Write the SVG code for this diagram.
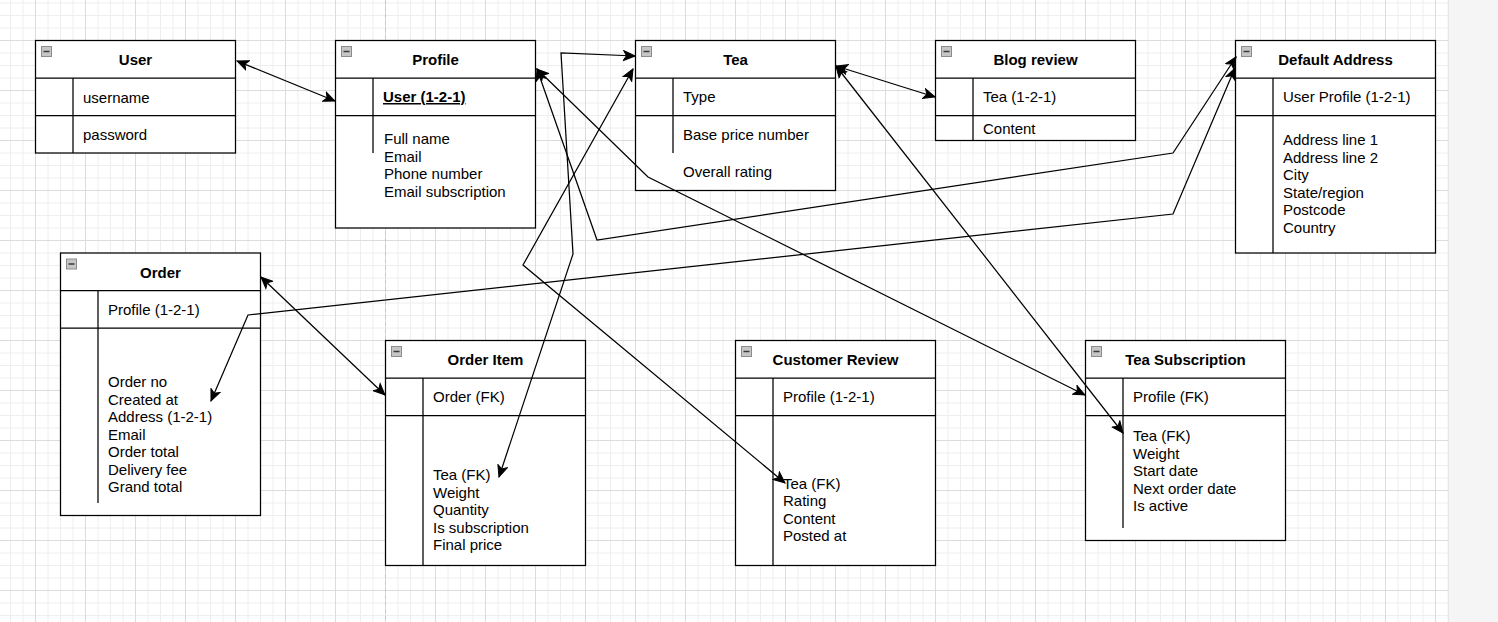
<svg xmlns="http://www.w3.org/2000/svg" xmlns:xlink="http://www.w3.org/1999/xlink" width="1498" height="622" viewBox="0 0 1498 622">
<style>
.box{fill:#fff;stroke:#000;stroke-width:1.25}
.ln{stroke:#000;stroke-width:1.25;fill:none}
.t{font-family:"Liberation Sans",Arial,sans-serif;font-size:15px;fill:#000}
.h{font-weight:bold;text-anchor:middle}
.u{font-weight:bold;text-decoration:underline}
.ic{fill:#c6c6c6;stroke:#8c8c8c;stroke-width:1}
.icl{stroke:#3a3a3a;stroke-width:1.5}
.c{stroke:#000;stroke-width:1.25;fill:none;marker-start:url(#a);marker-end:url(#a)}
</style>
<defs>
<pattern id="g" x="35" y="40" width="50" height="50" patternUnits="userSpaceOnUse">
<path d="M13,0V50M25.5,0V50M38,0V50M0,13H50M0,25.5H50M0,38H50" stroke="#eeeeee" stroke-width="1" fill="none"/>
<path d="M0.5,0V50M0,0.5H50" stroke="#dcdcdc" stroke-width="1" fill="none"/>
</pattern>
<marker id="a" viewBox="-12 -6 13 12" refX="0" refY="0" markerWidth="13" markerHeight="12" markerUnits="userSpaceOnUse" orient="auto-start-reverse">
<path d="M0,0 L-11.5,-5 L-8.5,0 L-11.5,5 Z" fill="#000" stroke="#000" stroke-width="1"/>
</marker>
<g id="icon">
<rect class="ic" x="6" y="6" width="10" height="10"/>
<line class="icl" x1="8" y1="11" x2="14" y2="11"/>
</g>
</defs>

<rect x="0" y="0" width="1498" height="622" fill="#fff"/>
<rect x="0" y="0" width="1448" height="622" fill="url(#g)"/>
<rect x="1448" y="0" width="50" height="622" fill="#f5f5f5"/>
<line x1="1448.5" y1="0" x2="1448.5" y2="622" stroke="#e6e6e6" stroke-width="1"/>
<line x1="385.5" y1="0" x2="385.5" y2="622" stroke="#c8c8c8" stroke-width="1" stroke-dasharray="4 3"/>

<g id="user">
<rect class="box" x="35.5" y="40.5" width="200" height="112.5"/>
<path class="ln" d="M35.5,78H235.5M35.5,115.5H235.5M73,78V153"/>
<use xlink:href="#icon" x="35.5" y="40.5"/>
<text class="t h" x="135.5" y="65">User</text>
<text class="t" x="83" y="102.5">username</text>
<text class="t" x="83" y="140">password</text>
</g>

<g id="profile">
<rect class="box" x="335.5" y="40.5" width="200" height="187.5"/>
<path class="ln" d="M335.5,78H535.5M335.5,115.5H535.5M373,78V153"/>
<use xlink:href="#icon" x="335.5" y="40.5"/>
<text class="t h" x="435.5" y="65">Profile</text>
<text class="t u" x="383" y="102">User (1-2-1)</text>
<text class="t" x="384" y="144">Full name</text>
<text class="t" x="384" y="161.5">Email</text>
<text class="t" x="384" y="179">Phone number</text>
<text class="t" x="384" y="196.5">Email subscription</text>
</g>

<g id="tea">
<rect class="box" x="635.5" y="40.5" width="200" height="150"/>
<path class="ln" d="M635.5,78H835.5M635.5,115.5H835.5M673,78V153"/>
<use xlink:href="#icon" x="635.5" y="40.5"/>
<text class="t h" x="735.5" y="65">Tea</text>
<text class="t" x="683" y="102">Type</text>
<text class="t" x="683" y="139.5">Base price number</text>
<text class="t" x="683" y="177">Overall rating</text>
</g>

<g id="blog-review">
<rect class="box" x="935.5" y="40.5" width="200" height="100"/>
<path class="ln" d="M935.5,78H1135.5M935.5,115.5H1135.5M973,78V140.5"/>
<use xlink:href="#icon" x="935.5" y="40.5"/>
<text class="t h" x="1035.5" y="65">Blog review</text>
<text class="t" x="983" y="102">Tea (1-2-1)</text>
<text class="t" x="983" y="133.5">Content</text>
</g>

<g id="default-address">
<rect class="box" x="1235.5" y="40.5" width="200" height="212.5"/>
<path class="ln" d="M1235.5,78H1435.5M1235.5,115.5H1435.5M1273,78V253"/>
<use xlink:href="#icon" x="1235.5" y="40.5"/>
<text class="t h" x="1335.5" y="65">Default Address</text>
<text class="t" x="1283" y="102">User Profile (1-2-1)</text>
<text class="t" x="1283" y="145">Address line 1</text>
<text class="t" x="1283" y="162.5">Address line 2</text>
<text class="t" x="1283" y="180">City</text>
<text class="t" x="1283" y="197.5">State/region</text>
<text class="t" x="1283" y="215">Postcode</text>
<text class="t" x="1283" y="232.5">Country</text>
</g>

<g id="order">
<rect class="box" x="60.5" y="253" width="200" height="262.5"/>
<path class="ln" d="M60.5,290.5H260.5M60.5,328H260.5M98,290.5V503"/>
<use xlink:href="#icon" x="60.5" y="253"/>
<text class="t h" x="160.5" y="277.5">Order</text>
<text class="t" x="108" y="315">Profile (1-2-1)</text>
<text class="t" x="108" y="387">Order no</text>
<text class="t" x="108" y="404.5">Created at</text>
<text class="t" x="108" y="422">Address (1-2-1)</text>
<text class="t" x="108" y="439.5">Email</text>
<text class="t" x="108" y="457">Order total</text>
<text class="t" x="108" y="474.5">Delivery fee</text>
<text class="t" x="108" y="492">Grand total</text>
</g>

<g id="order-item">
<rect class="box" x="385.5" y="340.5" width="200" height="225"/>
<path class="ln" d="M385.5,378H585.5M385.5,415.5H585.5M423,378V565.5"/>
<use xlink:href="#icon" x="385.5" y="340.5"/>
<text class="t h" x="485.5" y="365">Order Item</text>
<text class="t" x="433" y="402">Order (FK)</text>
<text class="t" x="433" y="480">Tea (FK)</text>
<text class="t" x="433" y="497.5">Weight</text>
<text class="t" x="433" y="515">Quantity</text>
<text class="t" x="433" y="532.5">Is subscription</text>
<text class="t" x="433" y="550">Final price</text>
</g>

<g id="customer-review">
<rect class="box" x="735.5" y="340.5" width="200" height="225"/>
<path class="ln" d="M735.5,378H935.5M735.5,415.5H935.5M773,378V565.5"/>
<use xlink:href="#icon" x="735.5" y="340.5"/>
<text class="t h" x="835.5" y="365">Customer Review</text>
<text class="t" x="783" y="402">Profile (1-2-1)</text>
<text class="t" x="783" y="488.5">Tea (FK)</text>
<text class="t" x="783" y="506">Rating</text>
<text class="t" x="783" y="523.5">Content</text>
<text class="t" x="783" y="541">Posted at</text>
</g>

<g id="tea-subscription">
<rect class="box" x="1085.5" y="340.5" width="200" height="200"/>
<path class="ln" d="M1085.5,378H1285.5M1085.5,415.5H1285.5M1123,378V528"/>
<use xlink:href="#icon" x="1085.5" y="340.5"/>
<text class="t h" x="1185.5" y="365">Tea Subscription</text>
<text class="t" x="1133" y="402">Profile (FK)</text>
<text class="t" x="1133" y="441">Tea (FK)</text>
<text class="t" x="1133" y="458.5">Weight</text>
<text class="t" x="1133" y="476">Start date</text>
<text class="t" x="1133" y="493.5">Next order date</text>
<text class="t" x="1133" y="511">Is active</text>
</g>

<g id="connectors">
<path class="c" d="M237,61L335,101"/>
<path class="c" d="M635,56L561,53L573,254L499,477"/>
<path class="c" d="M633,69L523,265L785,483"/>
<path class="c" d="M537,69L597,240L1173,153L1236,57"/>
<path class="c" d="M537,69L648,177L1085,395"/>
<path class="c" d="M211,401L248,315L1173,214L1235,68"/>
<path class="c" d="M261,277L385,395"/>
<path class="c" d="M836,66L935,97"/>
<path class="c" d="M836,66L1123,433"/>
</g>
</svg>
